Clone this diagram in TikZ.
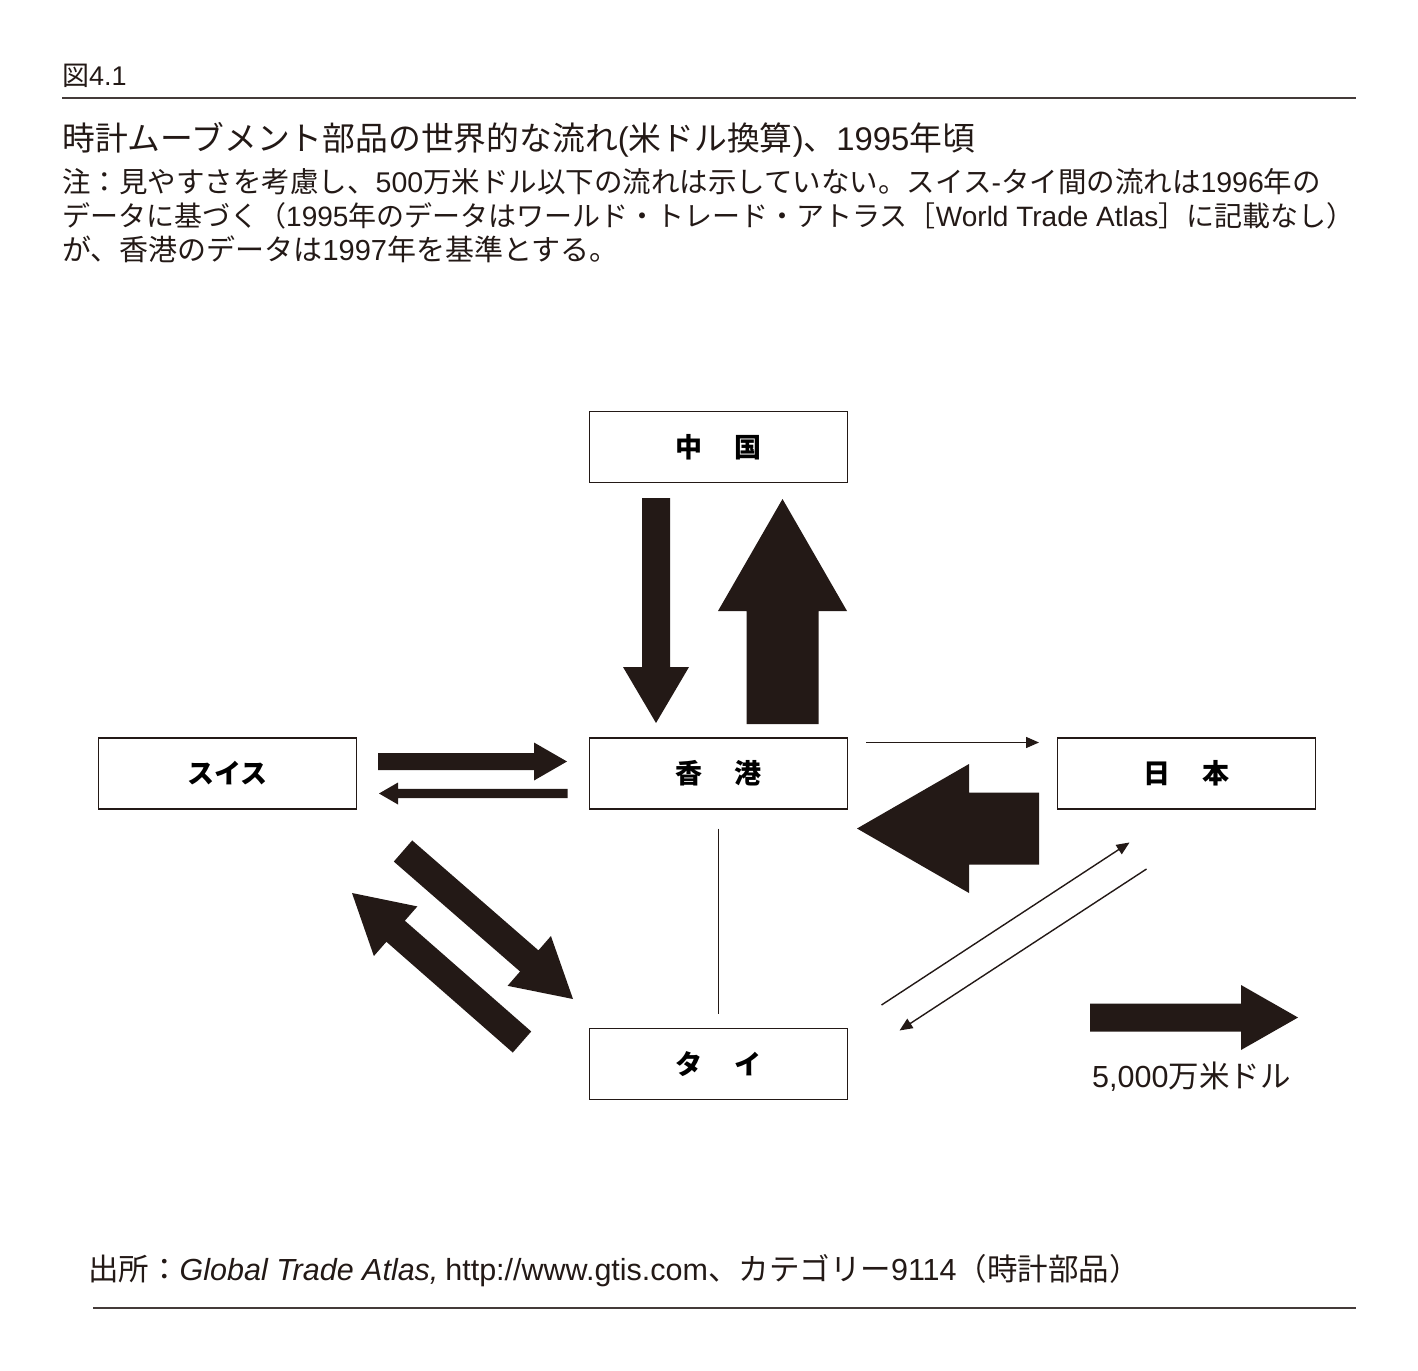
\documentclass[tikz,border=0pt]{standalone}
\usepackage{fontspec}
\setmainfont{Noto Sans CJK JP}
\newfontfamily\latinfont{Liberation Sans}
\newcommand\lat[1]{{\latinfont #1}}
\usetikzlibrary{calc,arrows.meta}
\definecolor{ink}{RGB}{35,25,22}

% block arrow: tail, tip, half shaft, half head, head length
\newcommand\flowarrow[5]{%
  \coordinate (hb) at ($(#2)!#5!(#1)$);
  \fill[ink] ($(#1)!#3!90:(#2)$) -- ($(hb)!#3!-90:(#1)$) -- ($(hb)!#4!-90:(#1)$) -- (#2)
    -- ($(hb)!#4!90:(#1)$) -- ($(hb)!#3!90:(#1)$) -- ($(#1)!#3!-90:(#2)$) -- cycle;
}

\begin{document}
\begin{tikzpicture}[x=1pt,y=-1pt,
  box/.style={draw=ink,line width=1.5pt,minimum width=258pt,minimum height=71pt,inner sep=0pt,
    font=\fontsize{27}{27}\selectfont\bfseries},
  txt/.style={anchor=base west,inner sep=0pt,text=ink},
  thinflow/.style={ink,line width=1.4pt,-{Triangle[length=13pt,width=11pt]}}]
\useasboundingbox (0,0) rectangle (1418,1370);

% header
\node[txt,font=\fontsize{27}{27}\selectfont] (fig) at (62,86) {図\lat{4.1}};
\draw[ink!85,line width=2pt] (62,98) -- (1356,98);
\node[txt,font=\fontsize{32.8}{32.8}\selectfont] (title) at (62,150) {時計ムーブメント部品の世界的な流れ\lat{(}米ドル換算\lat{)}、\lat{1995}年頃};
\node[txt,font=\fontsize{28.5}{28.5}\selectfont] (note1) at (62,192) {注：見やすさを考慮し、\lat{500}万米ドル以下の流れは示していない。スイス\lat{-}タイ間の流れは\lat{1996}年の};
\node[txt,font=\fontsize{28}{28}\selectfont] (note2) at (62,226) {データに基づく（\lat{1995}年のデータはワールド・トレード・アトラス［\lat{World Trade Atlas}］に記載なし）};
\node[txt,font=\fontsize{29}{29}\selectfont] (note3) at (62,260) {が、香港のデータは\lat{1997}年を基準とする。};

% countries
\node[box] (cn) at (718.5,447) {中\hspace{1.2em}国};
\node[box] (ch) at (227.5,773.5) {スイス};
\node[box] (hk) at (718.5,773.5) {香\hspace{1.2em}港};
\node[box] (jp) at (1186.5,773.5) {日\hspace{1.2em}本};
\node[box] (th) at (718.5,1064) {タ\hspace{1.2em}イ};

% flow end points
\coordinate (cnhk0) at (656,498);     \coordinate (cnhk1) at (656,723);
\coordinate (hkcn0) at (782.5,724);   \coordinate (hkcn1) at (782.5,499);
\coordinate (chhk0) at (378,761.5);   \coordinate (chhk1) at (567,761.5);
\coordinate (hkch0) at (567.5,793.5); \coordinate (hkch1) at (379,793.5);
\coordinate (jphk0) at (1039,828.5);  \coordinate (jphk1) at (857,828.5);
\coordinate (chth0) at (403,851);     \coordinate (chth1) at (573,999);
\coordinate (thch0) at (522,1042);    \coordinate (thch1) at (352,893);
\coordinate (hkjp0) at (866,742.5);   \coordinate (hkjp1) at (1039,742.5);
\coordinate (thjp0) at (881.5,1005);  \coordinate (thjp1) at (1129.5,842.5);
\coordinate (jpth0) at (1146.5,869);  \coordinate (jpth1) at (899.5,1030.5);
\coordinate (hkth0) at (718.5,828.5); \coordinate (hkth1) at (718.5,1014);
\coordinate (key0) at (1090,1017.5);  \coordinate (key1) at (1298,1017.5);

% block arrows
\flowarrow{cnhk0}{cnhk1}{14pt}{33pt}{56pt}
\flowarrow{hkcn0}{hkcn1}{36pt}{64.5pt}{112pt}
\flowarrow{chhk0}{chhk1}{8.5pt}{19pt}{33pt}
\flowarrow{hkch0}{hkch1}{4.7pt}{11pt}{19pt}
\flowarrow{jphk0}{jphk1}{36pt}{64.5pt}{112pt}
\flowarrow{chth0}{chth1}{14pt}{33pt}{58pt}
\flowarrow{thch0}{thch1}{14pt}{33pt}{58pt}

% thin flows
\draw[thinflow] (hkjp0) -- (hkjp1);
\draw[thinflow] (thjp0) -- (thjp1);
\draw[thinflow] (jpth0) -- (jpth1);
\draw[ink,line width=1.4pt] (hkth0) -- (hkth1);

% scale
\flowarrow{key0}{key1}{14pt}{32.5pt}{57pt}
\node[txt,font=\fontsize{30.5}{30.5}\selectfont] (keylabel) at (1092,1087) {\lat{5,000}万米ドル};

% source
\node[txt,font=\fontsize{30.5}{30.5}\selectfont] (src) at (88,1280) {出所：{\latinfont\itshape Global Trade Atlas,} \lat{http://www.gtis.com}、カテゴリー\lat{9114}（時計部品）};
\draw[ink!85,line width=2pt] (93,1307.5) -- (1356,1307.5);
\end{tikzpicture}
\end{document}
